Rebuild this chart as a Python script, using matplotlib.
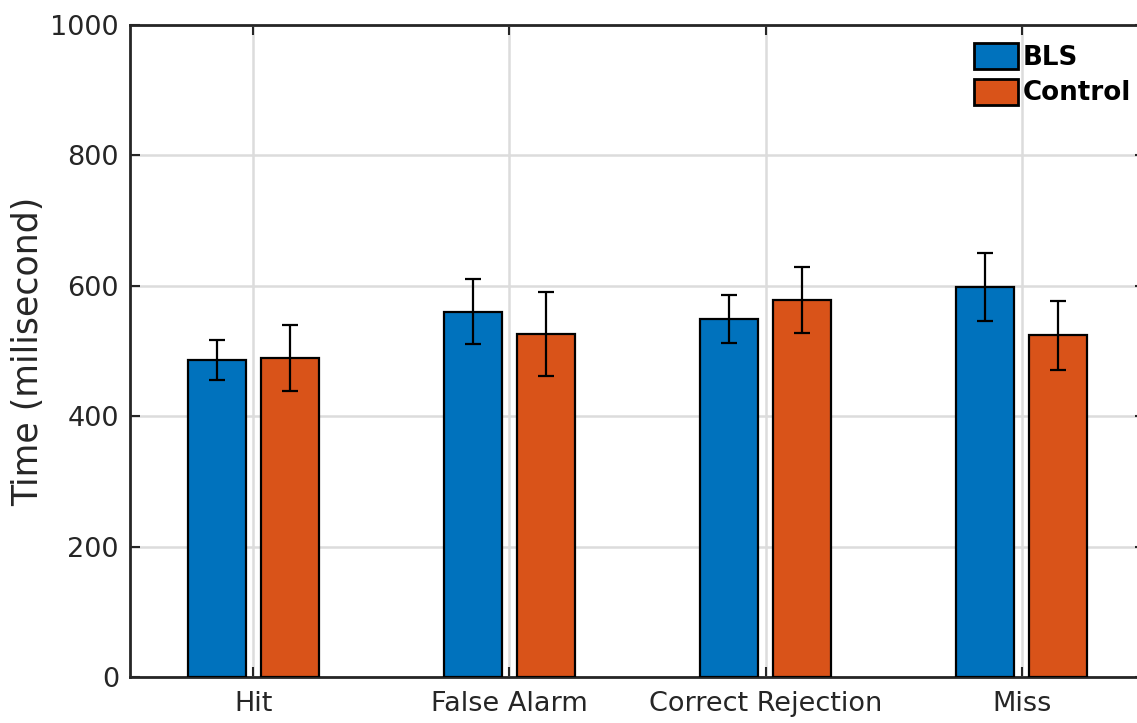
import numpy as np
import matplotlib
matplotlib.use("Agg")
import matplotlib.pyplot as plt

# values (milliseconds)
categories = ["Hit", "False Alarm", "Correct Rejection", "Miss"]
bls_mean = [486, 560, 549, 598]
bls_err = [31, 50, 37, 52]
control_mean = [489, 526, 578, 524]
control_err = [51, 64, 51, 53]
yticks = [0, 200, 400, 600, 800, 1000]

BLUE = "#0072BD"
ORANGE = "#D95319"
DARK = "#262626"

fig = plt.figure(figsize=(11.37, 7.23), dpi=100)
# axes runs slightly past the right edge, like the cropped original
ax = fig.add_axes([130 / 1137, 46 / 723, 1015 / 1137, 652 / 723])

x = np.arange(1, len(categories) + 1)
offset = 0.1425
width = 0.225

ax.bar(x - offset, bls_mean, width, color=BLUE, edgecolor="black",
       linewidth=1.6, label="BLS", zorder=3)
ax.bar(x + offset, control_mean, width, color=ORANGE, edgecolor="black",
       linewidth=1.6, label="Control", zorder=3)
ax.errorbar(x - offset, bls_mean, yerr=bls_err, fmt="none", ecolor="black",
            elinewidth=1.6, capsize=6, capthick=1.6, zorder=4)
ax.errorbar(x + offset, control_mean, yerr=control_err, fmt="none", ecolor="black",
            elinewidth=1.6, capsize=6, capthick=1.6, zorder=4)

ax.set_xlim(0.519, 4.481)
ax.set_ylim(0, 1000)
ax.set_xticks(x)
ax.set_xticklabels(categories)
ax.set_yticks(yticks)

ax.grid(True, color="#dcdcdc", linewidth=1.8, zorder=0)
ax.set_axisbelow(True)

for sp in ax.spines.values():
    sp.set_color(DARK)
    sp.set_linewidth(2)

ax.tick_params(direction="in", length=7, width=1.5, colors=DARK,
               top=True, right=True, labelsize=19.5)
ax.tick_params(axis="x", pad=10)
ax.tick_params(axis="y", pad=8)

ax.set_ylabel("Time (milisecond)", fontsize=25, color=DARK, labelpad=4)

leg = ax.legend(loc="upper left", bbox_to_anchor=(974 / 1137, 1 - 43 / 723),
                bbox_transform=fig.transFigure, frameon=False,
                prop={"size": 18.8, "weight": "bold"},
                handlelength=1.7, handleheight=1.15, handletextpad=0.15,
                labelspacing=0.3, borderpad=0, borderaxespad=0)
for h in leg.legend_handles:
    h.set_linewidth(2)

fig.savefig("out.png", dpi=100)
